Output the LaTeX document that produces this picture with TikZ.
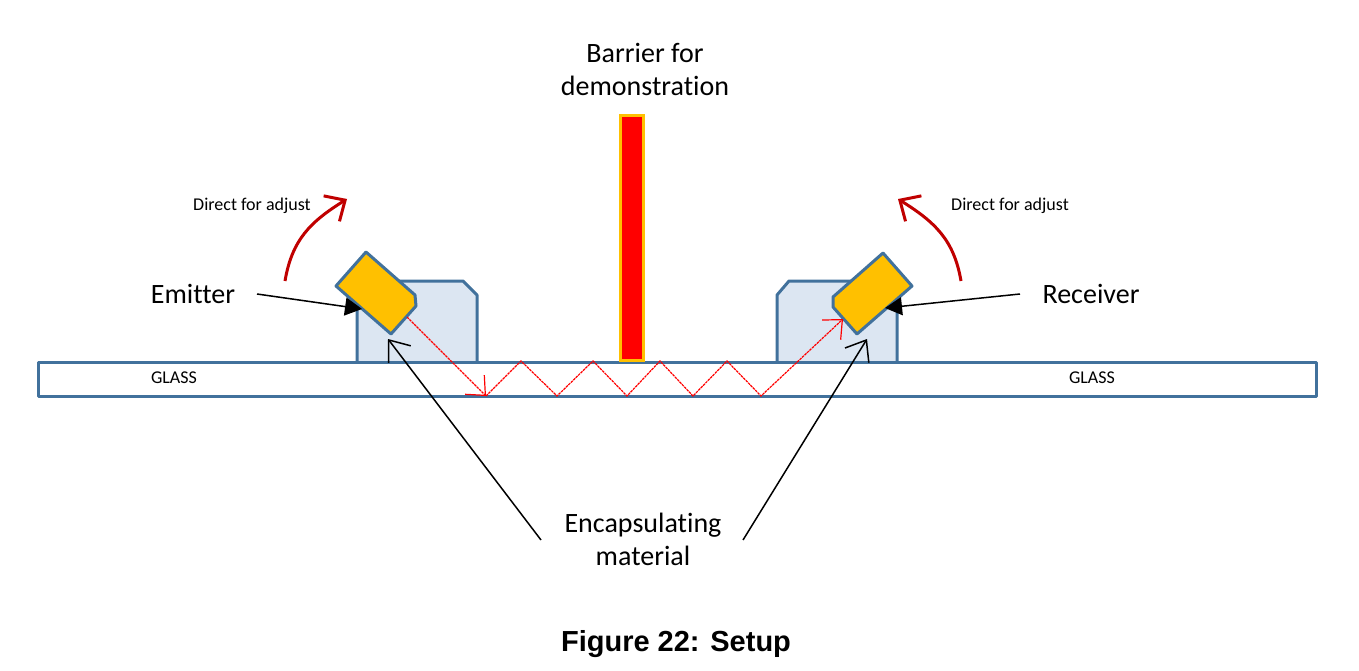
\documentclass[tikz,border=0pt]{standalone}
\usepackage{fontspec}
\setmainfont[RawFeature={-liga}]{Carlito}
\newfontfamily\capfont{Liberation Sans}
\usetikzlibrary{arrows.meta}
\definecolor{edgeblue}{HTML}{41719C}
\definecolor{blockfill}{HTML}{DCE6F2}
\definecolor{chip}{HTML}{FFC000}
\definecolor{darkred}{HTML}{C00000}
\tikzset{
  x=1pt,y=-1pt,
  body/.style={draw=edgeblue,line width=3pt,line join=round},
  label/.style={inner sep=0pt,align=center,text=black,font=\fontsize{28}{33}\selectfont},
  small/.style={inner sep=0pt,font=\fontsize{18}{20}\selectfont},
  pointer/.style={draw=black,line width=1.5pt},
  solidtip/.style={-{Triangle[length=17pt,width=18pt]}},
  opentip/.style={-{Straight Barb[length=18pt,width=28pt,line width=1.5pt]}},
  turn/.style={draw=darkred,line width=3pt,-{Straight Barb[length=16pt,width=30pt,line width=3pt]}},
  ray/.style={draw=red,line width=1.2pt,dash pattern=on 2.6pt off 0.8pt},
  raytip/.style={-{Straight Barb[length=15pt,width=27pt,line width=1.2pt]}},
}
\begin{document}
\begin{tikzpicture}
\useasboundingbox (0,0) rectangle (1359,671);
% encapsulating blocks
\draw[body,fill=blockfill] (357,362) -- (357,281) -- (463,281) -- (477,295) -- (477,362);
\draw[body,fill=blockfill] (777,362) -- (777,295) -- (789,281) -- (897,281) -- (897,362);
% glass
\draw[body,fill=white] (38.5,362) rectangle (1316.5,396);
% barrier
\draw[draw=chip,fill=red,line width=3pt] (620,115.5) rectangle (643,360);
% chips
\draw[body,fill=chip] (366,252) -- (336,286) -- (391,334) -- (416,306) -- (415,295) -- cycle;
\draw[body,fill=chip] (883,253) -- (912,286) -- (857,334) -- (833,307) -- (833,297) -- cycle;
% ray
\coordinate (r0) at (407,317);
\coordinate (r1) at (486,396);
\coordinate (r2) at (521,361);
\coordinate (r3) at (557,396);
\coordinate (r4) at (593,361);
\coordinate (r5) at (627,396);
\coordinate (r6) at (660,361);
\coordinate (r7) at (693,396);
\coordinate (r8) at (727,361);
\coordinate (r9) at (761,396);
\coordinate (r10) at (843,319);
\draw[ray,raytip] (r0) -- (r1);
\draw[ray,raytip] (r1) -- (r2) -- (r3) -- (r4) -- (r5) -- (r6) -- (r7) -- (r8) -- (r9) -- (r10);
% texts
\node[label] (barrier) at (645,69.5) {Barrier for\\demonstration};
\node[label] (emitter) at (193,294) {Emitter};
\node[label] (receiver) at (1091,294) {Receiver};
\node[label] (encap) at (643,539) {Encapsulating\\material};
\node[small] (dl) at (252,205.5) {Direct for adjust};
\node[small] (dr) at (1010,205.5) {Direct for adjust};
\node[small] (gl) at (174,378) {GLASS};
\node[small] (gr) at (1092,378) {GLASS};
\node[inner sep=0pt,font=\capfont\bfseries\fontsize{29}{32}\selectfont] (cap) at (676,644) {Figure 22: Setup};
% pointers
\coordinate (ea) at (257,294);
\coordinate (eb) at (362,309);
\coordinate (ra) at (1020,294);
\coordinate (rb) at (885,308);
\coordinate (ca) at (541,540);
\coordinate (cb) at (388,339);
\coordinate (da) at (743,540);
\coordinate (db) at (867,339);
\draw[pointer,solidtip] (ea) -- (eb);
\draw[pointer,solidtip] (ra) -- (rb);
\draw[pointer,opentip] (ca) -- (cb);
\draw[pointer,opentip] (da) -- (db);
% adjust arcs
\coordinate (la) at (285,281);
\coordinate (lb) at (347,199);
\coordinate (ma) at (961,281);
\coordinate (mb) at (898,199);
\draw[turn] (la) .. controls (292,240) and (310,222) .. (lb);
\draw[turn] (ma) .. controls (954,240) and (935,222) .. (mb);
\end{tikzpicture}
\end{document}
